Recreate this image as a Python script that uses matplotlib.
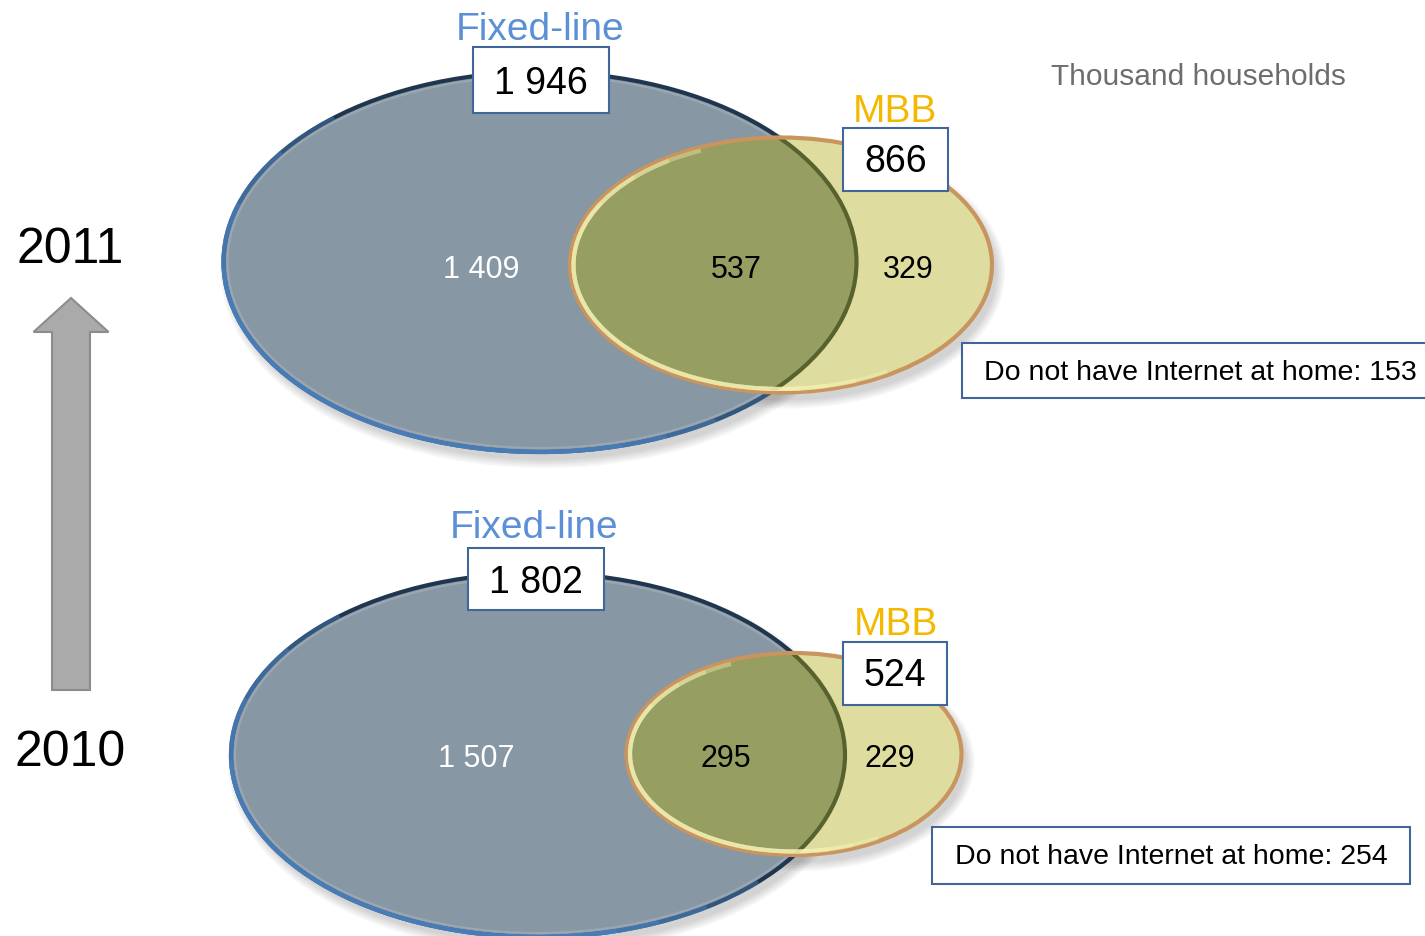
import numpy as np
import matplotlib.pyplot as plt
from matplotlib.patches import Ellipse, Rectangle, FancyArrow, Arc

plt.rcParams['font.family'] = ['Liberation Sans', 'DejaVu Sans']

# data (thousand households)
years = ["2011", "2010"]
fixed_total = ["1 946", "1 802"]
mbb_total = ["866", "524"]
fixed_only = ["1 409", "1 507"]
both = ["537", "295"]
mbb_only = ["329", "229"]
no_internet = [153, 254]

# layout in pixels (x, y from top)
blue_c = [(540, 262), (538, 755)]
blue_wh = [(633, 380), (614, 364)]
yel_c = [(781, 265), (794, 754)]
yel_wh = [(422, 255), (335, 202)]
fixed_lbl = [(540, 30), (534, 528)]
fixed_box = [(473, 47, 136, 66), (468, 548, 136, 62)]
mbb_lbl = [(895, 112), (896, 625)]
mbb_box = [(843, 128, 105, 63), (843, 642, 104, 63)]
txt_fixed = [(481, 270), (476, 759)]
txt_both = [(736, 270), (726, 759)]
txt_mbb = [(908, 270), (890, 759)]
none_box = [(962, 343, 470, 55), (932, 827, 478, 57)]
none_txt_x = [1200, 1171]
year_pos = [(70, 250), (70, 753)]

BLUE_FILL = '#8897a4'
BLUE_EDGE = '#20364e'
BLUE_LIGHT = '#4f88c8'
YEL_FILL = '#dedc9e'
OVERLAP = '#969e62'
OVERLAP_EDGE = '#58622e'
YEL_EDGE = '#c8955e'
YEL_HI = '#f6f2b4'
BOX_EDGE = '#41669a'

fig = plt.figure(figsize=(14.25, 9.36), dpi=100)
ax = fig.add_axes([0, 0, 1, 1])
ax.set_xlim(0, 1425)
ax.set_ylim(936, 0)
ax.axis('off')


def shadow(ax, c, w, h):
    for k in range(5):
        ax.add_patch(Ellipse((c[0] + 5, c[1] + 8), w + 4 * k, h + 4 * k,
                             facecolor='black', edgecolor='none', alpha=0.035, zorder=1))


def soft_arc(ax, c, w, h, t1, t2, color, lw, z):
    # a few overlapping arcs so the highlight fades out at its ends
    for k in range(4):
        ax.add_patch(Arc(c, w, h, theta1=t1 + 12 * k, theta2=t2 - 12 * k,
                         color=color, lw=lw, alpha=0.4, zorder=z))


for i in range(2):
    bc, (bw, bh) = blue_c[i], blue_wh[i]
    yc, (yw, yh) = yel_c[i], yel_wh[i]

    shadow(ax, bc, bw, bh)
    shadow(ax, yc, yw, yh)

    blue = Ellipse(bc, bw, bh, facecolor=BLUE_FILL, edgecolor=BLUE_EDGE, lw=3, zorder=2)
    ax.add_patch(blue)
    soft_arc(ax, bc, bw, bh, 30, 215, BLUE_LIGHT, 3, 2)
    ax.add_patch(Ellipse(bc, bw - 8, bh - 8, facecolor='none', edgecolor='#a3afba', lw=1.5,
                         alpha=0.7, zorder=2))

    # MBB ellipse: light part, then the overlap clipped to the fixed-line ellipse
    ax.add_patch(Ellipse(yc, yw, yh, facecolor=YEL_FILL, edgecolor='none', zorder=3))
    ov = Ellipse(yc, yw, yh, facecolor=OVERLAP, edgecolor='none', zorder=3)
    ax.add_patch(ov)
    ov.set_clip_path(blue)
    clip_y = Ellipse(yc, yw, yh, facecolor='none', edgecolor='none')
    ax.add_patch(clip_y)
    ln = Ellipse(bc, bw, bh, facecolor='none', edgecolor=OVERLAP_EDGE, lw=3, zorder=3.5)
    ax.add_patch(ln)
    ln.set_clip_path(clip_y)
    ax.add_patch(Ellipse(yc, yw, yh, facecolor='none', edgecolor=YEL_EDGE, lw=3, zorder=4))
    soft_arc(ax, yc, yw - 7, yh - 7, 45, 235, YEL_HI, 3, 4)

    ax.text(*fixed_lbl[i], "Fixed-line", color='#5b8fd6', fontsize=28, ha='center', va='center', zorder=6)
    x, y, w, h = fixed_box[i]
    ax.add_patch(Rectangle((x, y), w, h, facecolor='white', edgecolor=BOX_EDGE, lw=1.5, zorder=5))
    ax.text(x + w / 2, y + h / 2 + 4, fixed_total[i], fontsize=27, ha='center', va='center', zorder=6)

    ax.text(*mbb_lbl[i], "MBB", color='#f5b800', fontsize=28, ha='center', va='center', zorder=6)
    x, y, w, h = mbb_box[i]
    ax.add_patch(Rectangle((x, y), w, h, facecolor='white', edgecolor=BOX_EDGE, lw=1.5, zorder=5))
    ax.text(x + w / 2, y + h / 2 + 3, mbb_total[i], fontsize=27, ha='center', va='center', zorder=6)

    ax.text(*txt_fixed[i], fixed_only[i], color='white', fontsize=22, ha='center', va='center', zorder=6)
    ax.text(*txt_both[i], both[i], color='black', fontsize=22, ha='center', va='center', zorder=6)
    ax.text(*txt_mbb[i], mbb_only[i], color='black', fontsize=22, ha='center', va='center', zorder=6)

    x, y, w, h = none_box[i]
    ax.add_patch(Rectangle((x, y), w, h, facecolor='white', edgecolor=BOX_EDGE, lw=1.5, zorder=5))
    ax.text(none_txt_x[i], y + h / 2 + 2,
            f"Do not have Internet at home: {no_internet[i]}",
            fontsize=20.5, ha='center', va='center', zorder=6)

    ax.text(*year_pos[i], years[i], fontsize=36, ha='center', va='center', zorder=6)

ax.text(1198, 77, "Thousand households", color='#6d6d6d', fontsize=21.5, ha='center', va='center')

ax.add_patch(FancyArrow(71, 690, 0, -392, width=38, head_width=75, head_length=34,
                        length_includes_head=True, facecolor='#aaaaaa', edgecolor='#8c8c8c', lw=1.5))

fig.savefig('out.png', dpi=100)
